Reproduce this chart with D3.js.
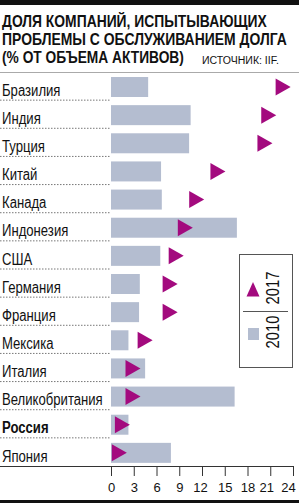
<!DOCTYPE html>
<html>
<head>
<meta charset="utf-8">
<script src="https://cdn.jsdelivr.net/npm/d3@7"></script>
<style>
  html, body { margin: 0; padding: 0; background: #fff; }
  svg { display: block; }
  text { font-family: "Liberation Sans", Arial, sans-serif; }
</style>
</head>
<body>
<div id="root"></div>
<script>
const width = 299;
const height = 503;

// data (% of assets)
const countries = ['Бразилия','Индия','Турция','Китай','Канада','Индонезия','США',
                   'Германия','Франция','Мексика','Италия','Великобритания','Россия','Япония'];
const values2010 = [4.9, 10.5, 10.3, 6.6, 6.7, 16.6, 6.5, 3.8, 3.7, 2.3, 4.5, 16.3, 2.3, 7.9];
const values2017 = [22.7, 20.8, 20.3, 14.1, 11.3, 9.8, 8.6, 7.8, 7.8, 4.5, 2.9, 2.9, 1.5, 1.1];
const xTicks = [0, 3, 6, 9, 12, 15, 18, 21, 24];
const titleLines = ['ДОЛЯ КОМПАНИЙ, ИСПЫТЫВАЮЩИХ', 'ПРОБЛЕМЫ С ОБСЛУЖИВАНИЕМ ДОЛГА', '(% ОТ ОБЪЕМА АКТИВОВ)'];
const titleWidths = [265, 285, 182];
const sourceText = 'ИСТОЧНИК: IIF.';

const barColor = '#b4bdd0';
const triColor = '#a30a7e';
const narrow = 0.82; // condensed look

const svg = d3.select('#root').append('svg')
  .attr('width', width)
  .attr('height', height);

// squeeze a text horizontally so it spans the given width
function fitWidth(sel, w) {
  sel.each(function (d, i) {
    const t = d3.select(this);
    const natural = this.getComputedTextLength();
    const target = typeof w === 'function' ? w(d, i) : w;
    const k = target / natural;
    t.attr('transform', `translate(${t.attr('x')}, ${t.attr('y')}) scale(${k}, 1)`)
     .attr('x', 0).attr('y', 0);
  });
}

// top and bottom black rules
svg.append('rect').attr('x', 0).attr('y', 0).attr('width', width).attr('height', 5).attr('fill', '#111');
svg.append('rect').attr('x', 0).attr('y', 500).attr('width', width).attr('height', 3).attr('fill', '#111');

// title
svg.append('g')
  .selectAll('text')
  .data(titleLines).enter()
  .append('text')
    .attr('x', 2)
    .attr('y', (d, i) => 27 + i * 18)
    .style('font-size', '16.5px')
    .style('font-weight', 'bold')
    .style('fill', '#111')
    .text(d => d)
    .call(fitWidth, (d, i) => titleWidths[i]);

svg.append('text')
  .attr('x', 202)
  .attr('y', 64)
  .style('font-size', '11.5px')
  .style('fill', '#111')
  .text(sourceText)
  .call(fitWidth, 77);

svg.append('line')
  .attr('x1', 0).attr('x2', width)
  .attr('y1', 72.5).attr('y2', 72.5)
  .style('stroke', '#aaa')
  .style('stroke-width', 1);

// scales
const x = d3.scaleLinear().domain([0, 24]).range([111, 293]);
const y = d3.scaleBand().domain(countries).range([72, 466]);

const rows = svg.append('g')
  .selectAll('.row')
  .data(countries).enter()
  .append('g')
    .attr('class', 'row')
    .attr('transform', d => `translate(0, ${y(d)})`);

// dotted separators
rows.filter((d, i) => i < countries.length - 1)
  .append('line')
    .attr('x1', 0).attr('x2', x(0))
    .attr('y1', y.bandwidth()).attr('y2', y.bandwidth())
    .style('stroke', '#777')
    .style('stroke-width', 1)
    .style('stroke-dasharray', '1.5,1.5');

rows.append('text')
  .attr('transform', `translate(2, ${y.bandwidth() - 4.5}) scale(${narrow}, 1)`)
  .style('font-size', '16px')
  .style('font-weight', d => d === 'Россия' ? 'bold' : 'normal')
  .style('fill', '#111')
  .text(d => d);

rows.append('rect')
  .attr('x', x(0))
  .attr('y', 5)
  .attr('width', (d, i) => x(values2010[i]) - x(0))
  .attr('height', 20)
  .style('fill', barColor);

const triW = 15, triH = 17;
rows.append('path')
  .attr('d', (d, i) => {
    const cx = x(values2017[i]);
    const cy = 15;
    return `M ${cx - triW / 2} ${cy - triH / 2} L ${cx + triW / 2} ${cy} L ${cx - triW / 2} ${cy + triH / 2} Z`;
  })
  .style('fill', triColor);

// axis
const axis = svg.append('g')
  .attr('transform', 'translate(0, 466)')
  .call(d3.axisBottom(x).tickValues(xTicks).tickSize(10).tickPadding(7).tickFormat(d3.format('d')));
axis.select('.domain').remove();
axis.selectAll('.tick line').style('stroke', '#333');
axis.selectAll('.tick text')
  .attr('x', d => d === 24 ? -5 : d === 21 ? -4 : d === 12 ? -2 : 0)
  .style('font-family', '"Liberation Sans", Arial, sans-serif')
  .style('font-size', '13px')
  .style('fill', '#111');
axis.append('line')
  .attr('x1', 0).attr('x2', x(24))
  .attr('y1', 0.5).attr('y2', 0.5)
  .style('stroke', '#333');

// legend
const legend = svg.append('g');
legend.append('rect')
  .attr('x', 239.5).attr('y', 254.5)
  .attr('width', 53).attr('height', 113)
  .style('fill', '#fff')
  .style('stroke', '#555');
legend.append('line')
  .attr('x1', 243).attr('x2', 288)
  .attr('y1', 311.5).attr('y2', 311.5)
  .style('stroke', '#555');
legend.append('path')
  .attr('d', 'M 246.5 296.5 L 253 282 L 259.5 296.5 Z')
  .style('fill', triColor);
legend.append('rect')
  .attr('x', 248).attr('y', 328)
  .attr('width', 11).attr('height', 12)
  .style('fill', barColor);
legend.selectAll('.ltext')
  .data([['2017', 288], ['2010', 332]]).enter()
  .append('text')
    .attr('transform', d => `translate(278.5, ${d[1]}) rotate(-90) scale(${narrow}, 1)`)
    .attr('text-anchor', 'middle')
    .style('font-size', '18px')
    .style('fill', '#111')
    .text(d => d[0]);
</script>
</body>
</html>
